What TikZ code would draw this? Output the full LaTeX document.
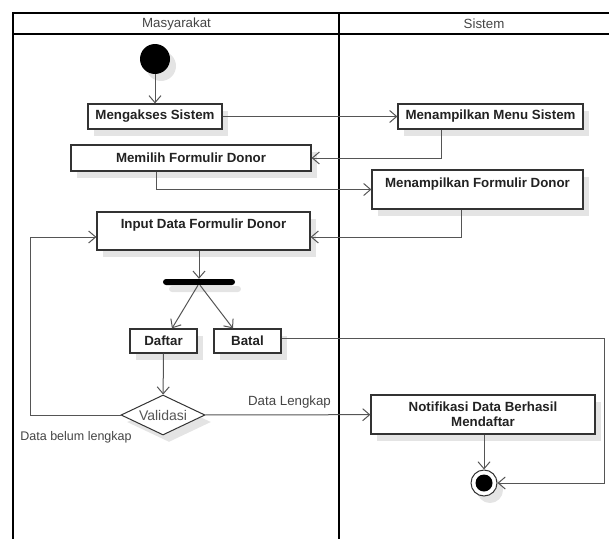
\documentclass[tikz,border=0pt]{standalone}
\usepackage{fontspec}
\setmainfont{Liberation Sans}
\usetikzlibrary{shapes.geometric,arrows.meta,shadows}
\definecolor{ln}{HTML}{555555}
\definecolor{bd}{HTML}{333333}
\definecolor{tx}{HTML}{222222}
\definecolor{lb}{HTML}{444444}
\definecolor{sh}{HTML}{E4E4E4}
\begin{document}
\begin{tikzpicture}[x=1pt,y=-1pt,
  shd/.style={drop shadow={shadow xshift=6pt,shadow yshift=-7pt,fill=sh,opacity=1}},
  box/.style={draw=bd,line width=1.2pt,fill=white,shd,inner sep=0pt,font=\fontsize{13.3}{15}\selectfont\bfseries,text=tx,align=center},
  boxtext/.style={inner sep=0pt,font=\fontsize{13.3}{15}\selectfont\bfseries,text=tx},
  conn/.style={draw=ln,line width=1pt,-{Straight Barb[length=7pt,width=12pt]}},
  lbl/.style={font=\fontsize{13.3}{15}\selectfont,text=lb,inner sep=0pt},
  frame/.style={line width=1.8pt,draw=black}]
\useasboundingbox (0,0) rectangle (609,538);
\begin{scope}
\clip (0,0) rectangle (609,538);
\draw[frame] (13,700) -- (13,13) -- (700,13);
\draw[frame] (13,34) -- (700,34);
\draw[frame] (339,13) -- (339,700);
\end{scope}

\node[lbl] (h1) at (176.5,24) {Masyarakat};
\node[lbl] (h2) at (484,24) {Sistem};

\node[circle,fill=black,minimum size=30pt,inner sep=0pt,shd] (start) at (155,59) {};
\node[box,minimum width=134pt,minimum height=25pt] (akses) at (155,116.5) {Mengakses Sistem};
\node[box,minimum width=185pt,minimum height=25pt] (menu) at (490.5,116.5) {Menampilkan Menu Sistem};
\node[box,minimum width=240pt,minimum height=26pt] (pilih) at (191,158) {Memilih Formulir Donor};
\node[box,minimum width=211pt,minimum height=39pt] (tform) at (477.5,189.5) {};
\node[boxtext] (tformt) at (477.5,184) {Menampilkan Formulir Donor};
\node[box,minimum width=213pt,minimum height=38pt] (input) at (203.5,231) {};
\node[boxtext] (inputt) at (203.5,225) {Input Data Formulir Donor};
\node[fill=black,rounded corners=3pt,minimum width=72pt,minimum height=6pt,inner sep=0pt,shd] (bar) at (199,282) {};
\node[box,minimum width=67pt,minimum height=24pt] (daftar) at (163.5,341) {Daftar};
\node[box,minimum width=67pt,minimum height=24pt] (batal) at (247.5,341) {Batal};
\node[diamond,aspect=2.1,draw=bd,line width=1pt,fill=white,shd,minimum width=84pt,minimum height=40pt,inner sep=0pt,font=\fontsize{14}{16}\selectfont,text=ln] (val) at (163,415) {Validasi};
\node[box,minimum width=224pt,minimum height=39pt] (notif) at (483,414.5) {Notifikasi Data Berhasil\\Mendaftar};
\node[circle,draw=bd,line width=1pt,fill=white,minimum size=26pt,inner sep=0pt,shd] (end) at (484,483) {};
\node[circle,fill=black,minimum size=17pt,inner sep=0pt] (endin) at (end) {};

\coordinate (lp) at (30,0);
\coordinate (rp) at (604,0);

\draw[conn] (start) -- (akses);
\draw[conn] (akses) -- (menu);
\draw[conn] ([xshift=-49.5pt]menu.south) |- (pilih.east);
\draw[conn] ([xshift=-35pt]pilih.south) |- (tform.west);
\draw[conn] ([xshift=-16.5pt]tform.south) |- ([yshift=-6pt]input.east);
\draw[conn] (input.south -| bar.north) -- (bar.north);
\draw[conn] ([xshift=-1pt]bar.south) -- ([xshift=8.5pt]daftar.north);
\draw[conn] ([xshift=1pt]bar.south) -- ([xshift=-14.5pt]batal.north);
\draw[conn] (daftar) -- (val);
\draw[conn] (val) -- (notif);
\draw[conn] (val.west) -- (val.west -| lp) |- ([yshift=-6pt]input.west);
\draw[conn] ([yshift=3pt]batal.east) -- ([yshift=3pt]batal.east -| rp) |- (end.east);
\draw[conn] (notif.south -| end.north) -- (end.north);

\node[lbl] (dl) at (289.5,402) {Data Lengkap};
\node[lbl,font=\fontsize{12.5}{14}\selectfont] (dbl) at (76,437) {Data belum lengkap};
\end{tikzpicture}
\end{document}
